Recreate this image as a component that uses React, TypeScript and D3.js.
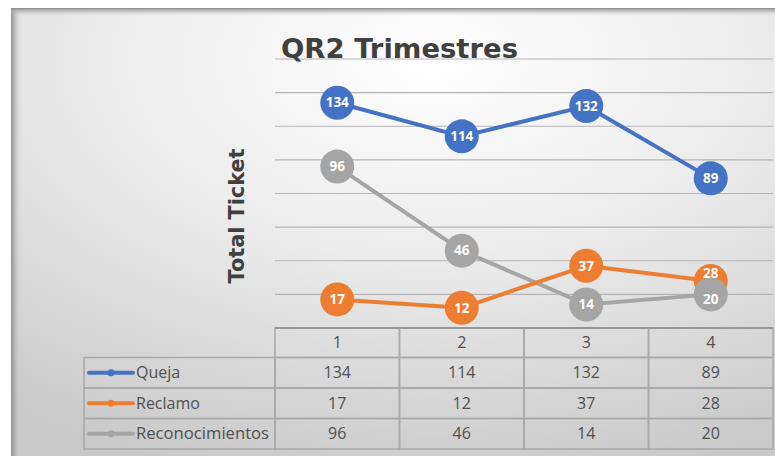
import React from "react";
import * as d3 from "d3";

const categories = ["1", "2", "3", "4"];
const seriesNames = ["Queja", "Reclamo", "Reconocimientos"];
const queja = [134, 114, 132, 89];
const reclamo = [17, 12, 37, 28];
const reconocimientos = [96, 46, 14, 20];
const seriesColors = ["#4472C4", "#ED7D31", "#A5A5A5"];
const yTicks = [0, 20, 40, 60, 80, 100, 120, 140, 160];
const title = "QR2 Trimestres";
const yTitle = "Total Ticket";

const W = 775;
const H = 456;

export default function App() {
  const series = [queja, reclamo, reconocimientos];
  const plotLeft = 275;
  const plotRight = 773;
  const x = d3.scaleBand().domain(categories).range([plotLeft, plotRight]).padding(0);
  const bw = x.bandwidth();
  const cx = (c: string) => (x(c) as number) + bw / 2;
  const y = d3.scaleLinear().domain([0, 160]).range([328, 59]);
  const line = d3
    .line<number>()
    .x((_, i) => cx(categories[i]))
    .y((d) => y(d));

  const rowTop = y(0);
  const headerH = 29.5;
  const rowH = 30.5;
  const legendLeft = 84;
  const tableFont = "'Open Sans', 'Noto Sans', sans-serif";
  const textCol = "#505050";
  const border = "#a8a8a8";

  const labelDy = (s: number, i: number) => {
    if (s === 1 && i === 3) return -8;
    if (s === 2 && i === 3) return 5;
    return 0;
  };

  const lineOrder = [2, 1, 0];

  return (
    <svg
      width={W}
      height={H}
      style={{ position: "absolute", left: 0, top: 0, display: "block" }}
    >
      <defs>
        <radialGradient id="bg" cx="0.55" cy="0.12" r="0.95" fx="0.55" fy="0.12">
          <stop offset="0" stopColor="#ffffff" />
          <stop offset="0.45" stopColor="#ececec" />
          <stop offset="1" stopColor="#c9c9c9" />
        </radialGradient>
        <linearGradient id="leftShade" x1="0" x2="1" y1="0" y2="0">
          <stop offset="0" stopColor="#8f8f8f" stopOpacity="1" />
          <stop offset="1" stopColor="#d0d0d0" stopOpacity="0" />
        </linearGradient>
        <linearGradient id="topShade" x1="0" x2="0" y1="0" y2="1">
          <stop offset="0" stopColor="#8a8a8a" stopOpacity="1" />
          <stop offset="1" stopColor="#d6d6d6" stopOpacity="0" />
        </linearGradient>
      </defs>
      <rect x={0} y={0} width={W} height={H} fill="#ffffff" />
      <rect x={11} y={8} width={W - 11} height={H - 8} fill="url(#bg)" />
      <rect x={11} y={8} width={10} height={H - 8} fill="url(#leftShade)" />
      <rect x={11} y={8} width={W - 11} height={8} fill="url(#topShade)" />

      {yTicks
        .filter((t) => t > 0)
        .map((t) => (
          <line
            key={t}
            x1={plotLeft}
            x2={plotRight}
            y1={y(t)}
            y2={y(t)}
            stroke="#b4b4b4"
            strokeWidth={1.2}
          />
        ))}

      <text
        x={281}
        y={58}
        fontFamily="'DejaVu Sans', sans-serif"
        fontWeight="bold"
        fontSize={27}
        fill="#404040"
        textLength={237}
        lengthAdjust="spacingAndGlyphs"
      >
        {title}
      </text>

      <text
        transform={`translate(244, 216) rotate(-90)`}
        textAnchor="middle"
        fontFamily="'DejaVu Sans', sans-serif"
        fontWeight="bold"
        fontSize={21}
        fill="#404040"
        textLength={135}
        lengthAdjust="spacingAndGlyphs"
      >
        {yTitle}
      </text>

      {lineOrder.map((s) => (
        <path
          key={s}
          d={line(series[s]) || ""}
          fill="none"
          stroke={seriesColors[s]}
          strokeWidth={4}
          strokeLinejoin="round"
        />
      ))}

      {series.map((vals, s) =>
        vals.map((v, i) => (
          <circle
            key={`${s}-${i}`}
            cx={cx(categories[i])}
            cy={y(v)}
            r={17}
            fill={seriesColors[s]}
          />
        ))
      )}

      {series.map((vals, s) =>
        vals.map((v, i) => (
          <text
            key={`l${s}-${i}`}
            x={cx(categories[i])}
            y={y(v) + labelDy(s, i)}
            dy="0.35em"
            textAnchor="middle"
            fontFamily="'Open Sans', 'Noto Sans', sans-serif"
            fontWeight="bold"
            fontSize={13.5}
            fill="#ffffff"
          >
            {v}
          </text>
        ))
      )}

      <g>
        {categories.map((c) => (
          <g key={`h${c}`}>
            <rect
              x={x(c) as number}
              y={rowTop}
              width={bw}
              height={headerH}
              fill="none"
              stroke={border}
              strokeWidth={1.5}
            />
            <text
              x={cx(c)}
              y={rowTop + headerH / 2}
              dy="0.35em"
              textAnchor="middle"
              fontFamily={tableFont}
              fontSize={16}
              fill={textCol}
            >
              {c}
            </text>
          </g>
        ))}
        <line x1={plotLeft} x2={plotRight} y1={rowTop} y2={rowTop} stroke="#8c8c8c" strokeWidth={1.5} />
        {series.map((vals, s) => {
          const ry = rowTop + headerH + s * rowH;
          return (
            <g key={`r${s}`}>
              <rect
                x={legendLeft}
                y={ry}
                width={plotLeft - legendLeft}
                height={rowH}
                fill="none"
                stroke={border}
                strokeWidth={1.5}
              />
              <line
                x1={89}
                x2={133}
                y1={ry + rowH / 2}
                y2={ry + rowH / 2}
                stroke={seriesColors[s]}
                strokeWidth={4}
                strokeLinecap="round"
              />
              <circle cx={111} cy={ry + rowH / 2} r={3.5} fill={seriesColors[s]} />
              <text
                x={136}
                y={ry + rowH / 2}
                dy="0.35em"
                fontFamily={tableFont}
                fontSize={16}
                fill={textCol}
                textLength={s === 2 ? 133 : undefined}
                lengthAdjust="spacingAndGlyphs"
              >
                {seriesNames[s]}
              </text>
              {vals.map((v, i) => (
                <g key={`c${s}-${i}`}>
                  <rect
                    x={x(categories[i]) as number}
                    y={ry}
                    width={bw}
                    height={rowH}
                    fill="none"
                    stroke={border}
                    strokeWidth={1.5}
                  />
                  <text
                    x={cx(categories[i])}
                    y={ry + rowH / 2}
                    dy="0.35em"
                    textAnchor="middle"
                    fontFamily={tableFont}
                    fontSize={16}
                    fill={textCol}
                  >
                    {v}
                  </text>
                </g>
              ))}
            </g>
          );
        })}
      </g>
    </svg>
  );
}
